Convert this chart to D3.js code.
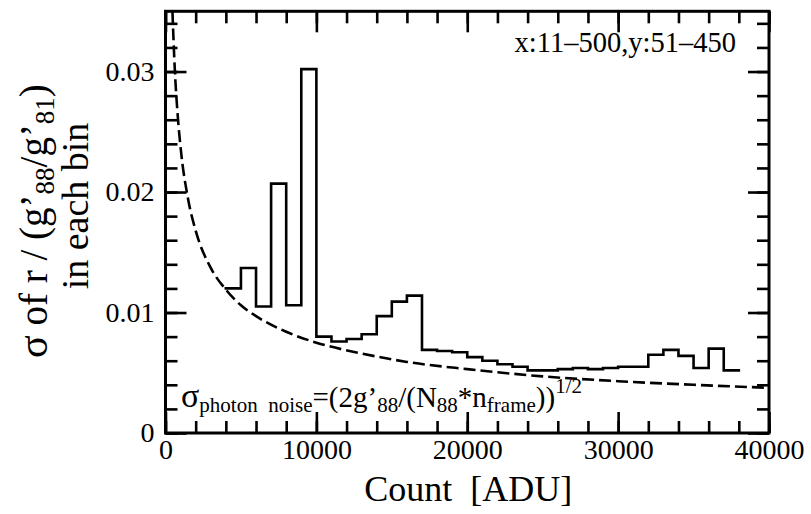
<!DOCTYPE html>
<html>
<head>
<meta charset="utf-8">
<script src="https://cdn.jsdelivr.net/npm/d3@7/dist/d3.min.js"></script>
</head>
<body style="margin:0">
<svg id="chart" width="811" height="514"></svg>
<script>
// Histogram bins: left edges (ADU) and sigma of the ratio in each bin
const binStarts = [4000, 5000, 6000, 7000, 8000, 9000, 10000, 11000, 12000, 13000,
                   14000, 15000, 16000, 17000, 18000, 19000, 20000, 21000, 22000, 23000,
                   24000, 25000, 26000, 27000, 28000, 29000, 30000, 31000, 32000, 33000,
                   34000, 35000, 36000, 37000];
const binSigma = [0.0120, 0.0137, 0.0105, 0.0207, 0.0106, 0.0302, 0.0080, 0.0076, 0.0078, 0.0082,
                  0.0097, 0.0109, 0.0114, 0.0069, 0.0068, 0.0067, 0.0063, 0.0060, 0.0057, 0.0055,
                  0.0052, 0.0052, 0.0053, 0.0054, 0.0053, 0.0054, 0.0055, 0.0055, 0.0065, 0.0069,
                  0.0064, 0.0054, 0.0070, 0.0052];
const binWidth = 1000;

// Photon-noise expectation (dashed curve)
const noiseCount = [460, 600, 800, 1000, 1500, 2000, 3000, 4000, 5000, 6000, 8000,
                    10000, 13000, 16000, 20000, 25000, 30000, 35000, 40000];
const noiseSigma = [0.0350, 0.0306, 0.0265, 0.0237, 0.0194, 0.0168, 0.0137, 0.0119, 0.0106, 0.0097, 0.0084,
                    0.0075, 0.0066, 0.0059, 0.0053, 0.0047, 0.0043, 0.0040, 0.00375];

// Axis ticks
const xMajor = [0, 10000, 20000, 30000, 40000];
const xMinor = d3.range(0, 40001, 2000);
const yMajor = [0, 0.01, 0.02, 0.03];
const yMinor = d3.range(0, 0.0351, 0.002);

const svg = d3.select("#chart");
const L = 165.5, R = 769, T = 11.3, B = 433;
const x = d3.scaleLinear().domain([0, 40000]).range([L, R]);
const y = d3.scaleLinear().domain([0, 0.035]).range([B, T]);

// Serif text helper
function label(parent, size) {
  return parent.append("text")
    .style("font-family", '"Liberation Serif"')
    .attr("font-size", size).attr("fill", "#000");
}

svg.append("defs").append("clipPath").attr("id", "plotclip")
  .append("rect").attr("x", L).attr("y", T).attr("width", R - L).attr("height", B - T);

// Histogram step line
const stepPts = binStarts.map((s, i) => [s, binSigma[i]]);
stepPts.push([binStarts[binStarts.length - 1] + binWidth, binSigma[binSigma.length - 1]]);
svg.append("path")
  .attr("d", d3.line().x(d => x(d[0])).y(d => y(d[1])).curve(d3.curveStepAfter)(stepPts))
  .attr("fill", "none").attr("stroke", "#000").attr("stroke-width", 2.6)
  .attr("stroke-linejoin", "miter").attr("stroke-linecap", "square");

// Dashed photon-noise curve
const noisePts = noiseCount.map((c, i) => [c, noiseSigma[i]]);
svg.append("path")
  .attr("clip-path", "url(#plotclip)")
  .attr("d", d3.line().x(d => x(d[0])).y(d => y(d[1])).curve(d3.curveMonotoneX)(noisePts))
  .attr("fill", "none").attr("stroke", "#000").attr("stroke-width", 2.6)
  .attr("stroke-dasharray", "12,5");

// Axes: inward ticks on all four sides
function styleAxis(g) {
  g.attr("font-family", null);
  g.select(".domain").remove();
  g.selectAll(".tick line").attr("stroke", "#000").attr("stroke-width", 2.6);
  g.selectAll(".tick text").attr("font-size", 28).attr("fill", "#000")
    .style("font-family", '"Liberation Serif"');
}
const fmtY = d => d === 0 ? "0" : d3.format(".2f")(d);

svg.append("g").attr("transform", `translate(0,${B})`)
  .call(d3.axisBottom(x).tickValues(xMinor).tickSize(-12).tickFormat(""))
  .call(styleAxis);
svg.append("g").attr("transform", `translate(0,${B})`)
  .call(d3.axisBottom(x).tickValues(xMajor).tickSize(-21).tickPadding(6).tickFormat(d3.format("d")))
  .call(styleAxis);
svg.append("g").attr("transform", `translate(0,${T})`)
  .call(d3.axisTop(x).tickValues(xMinor).tickSize(-12).tickFormat(""))
  .call(styleAxis);
svg.append("g").attr("transform", `translate(0,${T})`)
  .call(d3.axisTop(x).tickValues(xMajor).tickSize(-21).tickFormat(""))
  .call(styleAxis);

svg.append("g").attr("transform", `translate(${L},0)`)
  .call(d3.axisLeft(y).tickValues(yMinor).tickSize(-12).tickFormat(""))
  .call(styleAxis);
svg.append("g").attr("transform", `translate(${L},0)`)
  .call(d3.axisLeft(y).tickValues(yMajor).tickSize(-21).tickPadding(11).tickFormat(fmtY))
  .call(styleAxis);
svg.append("g").attr("transform", `translate(${R},0)`)
  .call(d3.axisRight(y).tickValues(yMinor).tickSize(-12).tickFormat(""))
  .call(styleAxis);
svg.append("g").attr("transform", `translate(${R},0)`)
  .call(d3.axisRight(y).tickValues(yMajor).tickSize(-21).tickFormat(""))
  .call(styleAxis);

// Frame
svg.append("rect").attr("x", L).attr("y", T).attr("width", R - L).attr("height", B - T)
  .attr("fill", "none").attr("stroke", "#000").attr("stroke-width", 3);

// Axis titles
label(svg, 36).attr("x", (L + R) / 2 + 1).attr("y", 501).attr("text-anchor", "middle")
  .text("Count\u00a0\u00a0[ADU]");

const yt = svg.append("g").attr("transform", "translate(47,221) rotate(-90)");
const t1 = label(yt, 39).attr("text-anchor", "middle");
t1.append("tspan").attr("font-size", 42).text("σ");
t1.append("tspan").text("\u00a0of\u00a0r\u00a0/\u00a0(g’");
t1.append("tspan").attr("font-size", 27).attr("dy", 7).text("88");
t1.append("tspan").attr("dy", -7).text("/g’");
t1.append("tspan").attr("font-size", 27).attr("dy", 7).text("81");
t1.append("tspan").attr("dy", -7).text(")");
label(yt, 38).attr("y", 41).attr("x", 15).attr("text-anchor", "middle").text("in each bin");

// Region annotation
label(svg, 28.5).attr("x", 736).attr("y", 52).attr("text-anchor", "end").text("x:11–500,y:51–450");

// Photon-noise formula
const f = label(svg, 29).attr("x", 181).attr("y", 407);
f.append("tspan").attr("font-size", 34).text("σ");
f.append("tspan").attr("font-size", 21).attr("dy", 5).text("photon\u00a0\u00a0noise");
f.append("tspan").attr("dy", -5).text("=(2g’");
f.append("tspan").attr("font-size", 21).attr("dy", 5).text("88");
f.append("tspan").attr("dy", -5).text("/(N");
f.append("tspan").attr("font-size", 21).attr("dy", 5).text("88");
f.append("tspan").attr("dy", -5).text("*n");
f.append("tspan").attr("font-size", 21).attr("dy", 5).text("frame");
f.append("tspan").attr("dy", -5).text("))");
f.append("tspan").attr("font-size", 21).attr("dy", -14).text("1/2");
</script>
</body>
</html>
